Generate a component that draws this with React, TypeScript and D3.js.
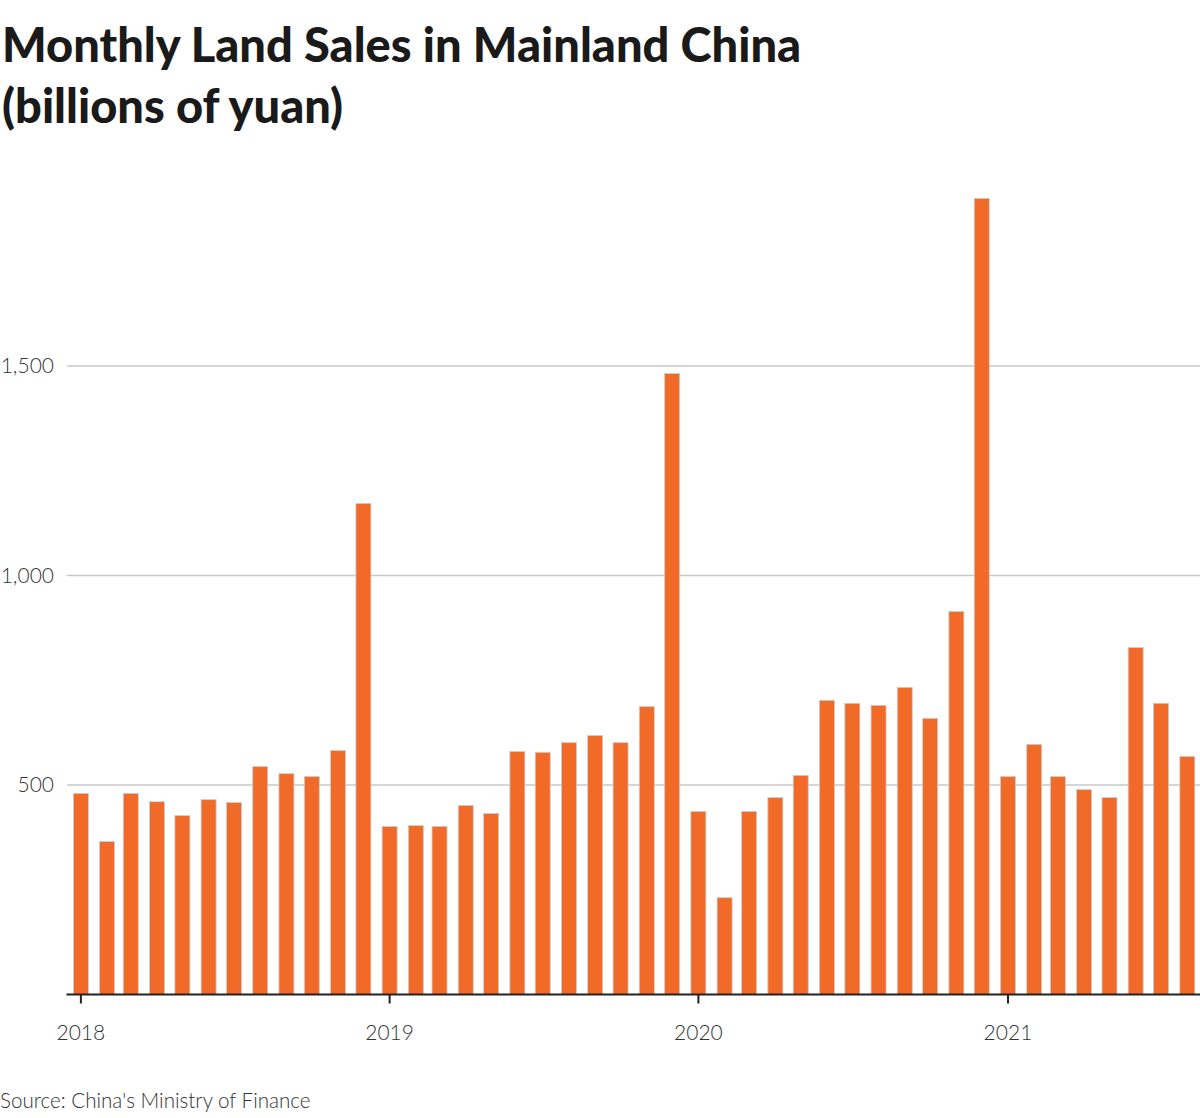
import React from "react";
import * as d3 from "d3";

const months: string[] = [
  "2018-01","2018-02","2018-03","2018-04","2018-05","2018-06","2018-07","2018-08","2018-09","2018-10","2018-11","2018-12",
  "2019-01","2019-02","2019-03","2019-04","2019-05","2019-06","2019-07","2019-08","2019-09","2019-10","2019-11","2019-12",
  "2020-01","2020-02","2020-03","2020-04","2020-05","2020-06","2020-07","2020-08","2020-09","2020-10","2020-11","2020-12",
  "2021-01","2021-02","2021-03","2021-04","2021-05","2021-06","2021-07","2021-08",
];
const sales: number[] = [
  480, 365, 480, 460, 427, 465, 458, 544, 527, 520, 582, 1172,
  401, 403, 401, 451, 432, 580, 578, 601, 618, 601, 687, 1482,
  437, 231, 437, 470, 523, 702, 695, 690, 733, 659, 914, 1900,
  520, 597, 520, 489, 470, 828, 695, 568,
];
const yTicks: number[] = [500, 1000, 1500];
const xTickYears: number[] = [2018, 2019, 2020, 2021];
const title: string[] = ["Monthly Land Sales in Mainland China", "(billions of yuan)"];
const source = "Source: China's Ministry of Finance";

const W = 1200;
const H = 1118;
const FONT = "'Source Sans Pro', Lato, 'Open Sans', sans-serif";

export default function App() {
  const parse = d3.timeParse("%Y-%m");
  const dates = months.map((m) => parse(m) as Date);
  const x = d3
    .scaleTime()
    .domain([new Date(2017, 11, 15), new Date(2021, 7, 16)])
    .range([66.5, 1200]);
  const y = d3.scaleLinear().domain([0, 1500]).range([994.5, 366]);
  const barW = 15;
  const fmt = d3.format(",");

  return (
    <svg
      width={W}
      height={H}
      style={{ position: "absolute", left: 0, top: 0, background: "#fff" }}
      fontFamily={FONT}
    >
      <text x={2} y={62} fontSize={47} fontWeight={900} fill="#1a1a1a">
        {title[0]}
      </text>
      <text x={2} y={123} fontSize={47} fontWeight={900} fill="#1a1a1a">
        {title[1]}
      </text>

      {yTicks.map((t) => (
        <g key={t}>
          <line x1={67} x2={1200} y1={y(t)} y2={y(t)} stroke="#c8c8c8" strokeWidth={1.3} />
          <text x={54} y={y(t) + 7} fontSize={21} fontWeight={300} fill="#333" textAnchor="end">
            {fmt(t)}
          </text>
        </g>
      ))}

      {dates.map((d, i) => (
        <rect
          key={months[i]}
          x={x(d) - barW / 2}
          y={y(sales[i])}
          width={barW}
          height={y(0) - y(sales[i])}
          fill="#f26a27"
          stroke="#cccccc"
          strokeWidth={0.8}
        />
      ))}

      <line x1={66.5} x2={1200} y1={y(0)} y2={y(0)} stroke="#222" strokeWidth={2} />
      {xTickYears.map((yr) => {
        const px = x(new Date(yr, 0, 1));
        return (
          <g key={yr}>
            <line x1={px} x2={px} y1={y(0)} y2={y(0) + 9} stroke="#222" strokeWidth={2} />
            <text x={px} y={1040} fontSize={21} fontWeight={300} fill="#333" textAnchor="middle">
              {yr}
            </text>
          </g>
        );
      })}

      <text x={0} y={1108} fontSize={20.6} fontWeight={300} fill="#333">
        {source}
      </text>
    </svg>
  );
}
